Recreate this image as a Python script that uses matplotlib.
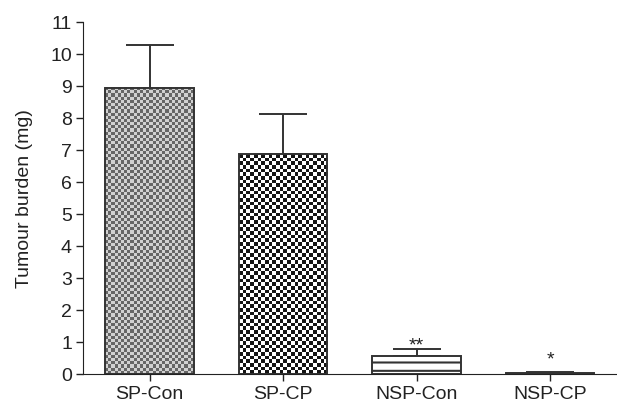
import numpy as np
import matplotlib
matplotlib.use('Agg')
import matplotlib.pyplot as plt

plt.rcParams['font.family'] = ['Liberation Sans', 'DejaVu Sans']
plt.rcParams['hatch.color'] = '#888888'
plt.rcParams['hatch.linewidth'] = 1.5

groups = ['SP-Con', 'SP-CP', 'NSP-Con', 'NSP-CP']
means = [8.95, 6.87, 0.56, 0.04]
errs = [1.32, 1.25, 0.23, 0.04]
marks = ['', '', '**', '*']
mark_y = [0, 0, 0.88, 0.43]

fig = plt.figure(figsize=(6.17, 4.08), dpi=100)
ax = fig.add_axes([0.1345, 0.083, 0.865, 0.863])

x = np.arange(len(groups))
w = 0.665
fills = ['none', 'none', 'white', '#444444']
bars = ax.bar(x, means, w, color=fills, edgecolor='#333333', linewidth=1.4, zorder=2)
ax.errorbar(x, means, yerr=[np.zeros(len(errs)), errs], fmt='none', ecolor='#333333',
            elinewidth=1.4, capsize=17, capthick=1.4, zorder=1)

ax.set_xlim(-0.5, 3.5)
ax.set_ylim(0, 11)

def checker(cell_px, c1, c2, bar):
    # checkerboard fill over the bar
    x0, y0 = bar.get_x(), bar.get_y()
    x1, y1 = x0 + bar.get_width(), y0 + bar.get_height()
    p0 = ax.transData.transform((x0, y0))
    p1 = ax.transData.transform((x1, y1))
    nx = max(1, int(round((p1[0] - p0[0]) / cell_px)))
    ny = max(1, int(round((p1[1] - p0[1]) / cell_px)))
    ii, jj = np.indices((ny, nx))
    img = np.where((ii + jj) % 2 == 0, c1, c2)
    ax.imshow(img, cmap='gray', vmin=0, vmax=1, extent=(x0, x1, y0, y1),
              interpolation='nearest', aspect='auto', zorder=1.5)

checker(3.2, 0.4, 0.82, bars[0])
checker(3.65, 0.08, 1.0, bars[1])
bars[2].set_hatch('--')
ax.set_xlim(-0.5, 3.5)
ax.set_ylim(0, 11)

for xi, m, my in zip(x, marks, mark_y):
    if m:
        ax.text(xi, my, m, ha='center', va='center', fontsize=14, color='#222222')

ax.set_yticks(range(0, 12))
ax.set_xticks(x)
ax.set_xticklabels(groups)
ax.tick_params(labelsize=14, colors='#222222', width=1, length=5)
ax.tick_params(axis='y', pad=3)
ax.set_ylabel('Tumour burden (mg)', fontsize=14, color='#222222', labelpad=12)
ax.spines['top'].set_visible(False)
ax.spines['right'].set_visible(False)
ax.spines['left'].set_color('#222222')
ax.spines['bottom'].set_color('#222222')

fig.savefig('out.png', dpi=100)
